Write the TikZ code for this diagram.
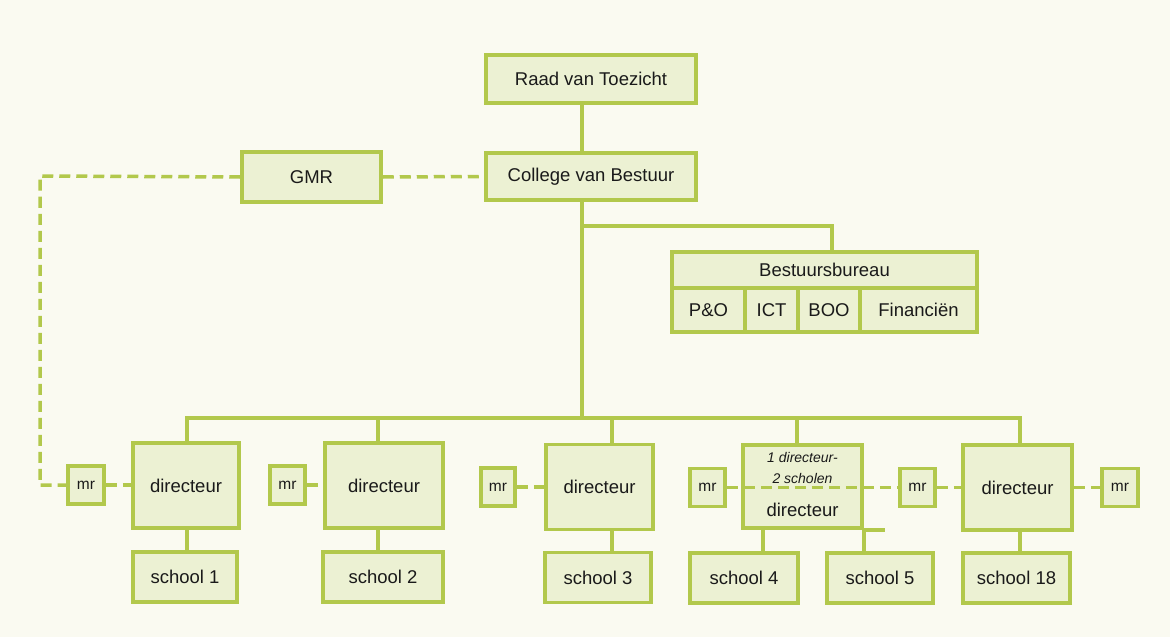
\documentclass[tikz,border=0pt]{standalone}
\usepackage{fontspec}
\setmainfont{Liberation Sans}
\definecolor{bgc}{HTML}{FAFAF1}
\definecolor{boxfill}{HTML}{ECF1D3}
\definecolor{boxline}{HTML}{B2C84C}
\definecolor{txt}{HTML}{1A1A1A}
\begin{document}
\begin{tikzpicture}[x=1pt,y=-1pt,
  box/.style={draw=boxline, fill=boxfill, line width=3.5pt, inner sep=0pt,
    text=txt, font=\fontsize{18.5}{21}\selectfont, line join=miter},
  mrbox/.style={box, minimum width=36pt, minimum height=38pt, font=\fontsize{15.5}{18}\selectfont},
  dirbox/.style={box, minimum height=85pt},
  schbox/.style={box, minimum height=50pt},
  conn/.style={draw=boxline, line width=3.5pt, line join=miter},
  dconn/.style={draw=boxline, line width=3.5pt, dash pattern=on 11pt off 6pt},
  lbl/.style={inner sep=0pt, text=txt, font=\fontsize{18.5}{21}\selectfont},
  ilbl/.style={inner sep=0pt, text=txt, font=\fontsize{14}{16}\itshape\selectfont}]
\fill[bgc] (0,0) rectangle (1170,637);
\useasboundingbox (0,0) rectangle (1170,637);

% coordinates for lines
\coordinate (trunk) at (582,418);
\coordinate (bbk) at (832,226);
\coordinate (busL) at (187,418);
\coordinate (busR) at (1020,418);
\coordinate (b2) at (378,418);
\coordinate (b3) at (612,418);
\coordinate (b4) at (797,418);
\coordinate (gmrc) at (40,176);
\coordinate (s4c) at (763,528);

% top
\node[box, minimum width=210pt, minimum height=48pt] (raad) at (591,79) {Raad van Toezicht};
\node[box, minimum width=210pt, minimum height=47pt] (cvb) at (591,176.5) {College van Bestuur};
\node[box, minimum width=139pt, minimum height=50pt] (gmr) at (311.5,177) {GMR};

% Bestuursbureau
\node[box, minimum width=305pt, minimum height=36pt] (bb) at (824.5,270) {Bestuursbureau};
\node[box, minimum width=73pt, minimum height=44pt] (po) at (708.5,310) {P\&O};
\node[box, minimum width=53pt, minimum height=44pt] (ict) at (771.5,310) {ICT};
\node[box, minimum width=62pt, minimum height=44pt] (boo) at (829,310) {BOO};
\node[box, minimum width=117pt, minimum height=44pt] (fin) at (918.5,310) {Financiën};

% directors
\node[dirbox, minimum width=106pt] (dir1) at (186,485.5) {directeur};
\node[dirbox, minimum width=118pt] (dir2) at (384,485.5) {directeur};
\node[dirbox, minimum width=107pt] (dir3) at (599.5,487) {directeur};
\node[dirbox, minimum width=119pt, minimum height=83pt] (dir4) at (802.5,486.5) {};
\node[dirbox, minimum width=109pt] (dir18) at (1017.5,487.5) {directeur};

% mr
\node[mrbox] (mr1) at (86,485) {mr};
\node[mrbox, minimum width=35pt] (mr2) at (287.5,485) {mr};
\node[mrbox, minimum width=34pt] (mr3) at (498,487) {mr};
\node[mrbox, minimum width=35pt] (mr4) at (707.5,487.5) {mr};
\node[mrbox, minimum width=35pt] (mr5) at (917.5,487.5) {mr};
\node[mrbox] (mr6) at (1120,487.5) {mr};

% schools
\node[schbox, minimum width=104pt] (s1) at (185,577) {school 1};
\node[schbox, minimum width=120pt] (s2) at (383,577) {school 2};
\node[schbox, minimum width=106pt] (s3) at (598,577.5) {school 3};
\node[schbox, minimum width=108pt] (s4) at (744,578) {school 4};
\node[schbox, minimum width=106pt] (s5) at (880,578) {school 5};
\node[schbox, minimum width=107pt] (s18) at (1016.5,578) {school 18};

\coordinate (d4ext) at ([xshift=21pt]dir4.south east);

% solid connectors
\draw[conn] (raad.south -| trunk) -- (cvb.north -| trunk);
\draw[conn] (cvb.south -| trunk) -- (trunk);
\draw[conn] (trunk |- bbk) -- (bbk) -- (bb.north -| bbk);
\draw[conn] (dir1.north -| busL) -- (busL) -- (busR) -- (dir18.north -| busR);
\draw[conn] (b2) -- (dir2.north -| b2);
\draw[conn] (b3) -- (dir3.north -| b3);
\draw[conn] (b4) -- (dir4.north -| b4);
\draw[conn] (dir1.south -| busL) -- (s1.north -| busL);
\draw[conn] (dir2.south -| b2) -- (s2.north -| b2);
\draw[conn] (dir3.south -| b3) -- (s3.north -| b3);
\draw[conn] (dir4.south east) -- (d4ext);
\draw[conn] (dir4.south -| s4c) -- (s4.north -| s4c);
\draw[conn] (dir4.south east) -- (s5.north -| dir4.south east);
\draw[conn] (dir18.south -| busR) -- (s18.north -| busR);

% dashed connectors
\draw[dconn] (gmr.east) -- (cvb.west);
\draw[dconn] (gmr.west) -- (gmrc) -- (gmrc |- mr1.west) -- (mr1.west);
\draw[dconn] (mr1.east) -- (dir1.west |- mr1.east);
\draw[dconn] (mr2.east) -- (dir2.west |- mr2.east);
\draw[dconn] (mr3.east) -- (dir3.west |- mr3.east);
\draw[dconn] (mr4.east) -- (mr5.west);
\draw[dconn] (mr5.east) -- (dir18.west |- mr5.east);
\draw[dconn] (dir18.east |- mr6.west) -- (mr6.west);

% labels inside combined director box
\node[ilbl] (d4a) at (802.5,457) {1 directeur-};
\node[ilbl] (d4b) at (802.5,478) {2 scholen};
\node[lbl] (d4c) at (802.5,510) {directeur};
\end{tikzpicture}
\end{document}
